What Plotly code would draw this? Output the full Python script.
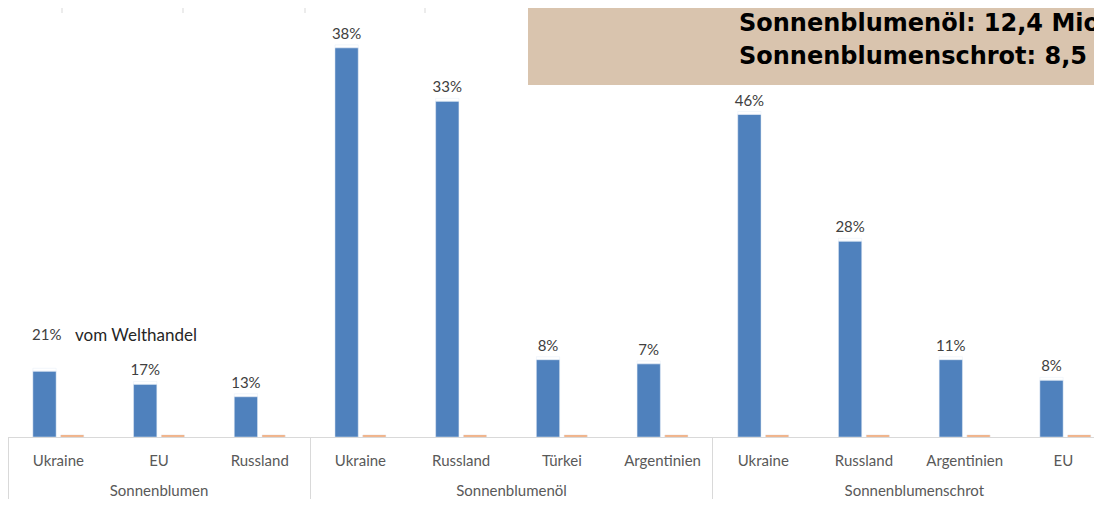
import plotly.graph_objects as go

# Produkte (Gruppen) und Länder
gruppen = ["Sonnenblumen"] * 3 + ["Sonnenblumenöl"] * 4 + ["Sonnenblumenschrot"] * 4
# "EU " mit Leerzeichen, damit plotly die Reihenfolge in der letzten Gruppe nicht umsortiert
laender = ["Ukraine", "EU", "Russland",
           "Ukraine", "Russland", "Türkei", "Argentinien",
           "Ukraine", "Russland", "Argentinien", "EU "]

# Exportmengen in Mio t (Balkenhöhe) und Anteil am Welthandel (Beschriftung)
export_mio_t = [0.80, 0.64, 0.49,
                4.73, 4.08, 0.94, 0.89,
                3.92, 2.38, 0.94, 0.69]
anteil = ["", "17%", "13%",
          "38%", "33%", "8%", "7%",
          "46%", "28%", "11%", "8%"]
zweite_reihe = [0.025] * 11

BLAU = "#4F81BD"
ORANGE = "#F4A46E"
FONT = "Lato"

# Browser legt 8px Rand um die Seite -> Plotbereich oben links bei Bild (8, 8)
W, H = 1102, 505
PLOT_H = 429          # Achse bei y=437 im Bild
PX_PRO_MIO_T = 82.3

# Gruppennamen eine Zeile tiefer, wie im Original
gruppen_label = ["<br>" + g for g in gruppen]

fig = go.Figure()
fig.add_trace(go.Bar(x=[gruppen_label, laender], y=export_mio_t, marker_color=BLAU,
                     offsetgroup="blau"))
fig.add_trace(go.Bar(x=[gruppen_label, laender], y=zweite_reihe, marker_color=ORANGE,
                     offsetgroup="orange"))
# unsichtbare Balken über den blauen Balken tragen die Prozent-Beschriftung
fig.add_trace(go.Bar(
    x=[gruppen_label, laender], y=[0.035] * 11, base=export_mio_t,
    marker_color="rgba(0,0,0,0)", offsetgroup="blau",
    text=anteil, textposition="outside", constraintext="none", cliponaxis=False,
    textfont=dict(family=FONT, size=15, color="#404040"),
))

# Sonderbeschriftung des ersten Balkens
fig.add_annotation(text="21%", xref="paper", yref="y", x=22 / W, y=1.25,
                   xanchor="left", yanchor="middle", showarrow=False,
                   font=dict(family=FONT, size=15, color="#404040"))
fig.add_annotation(text="vom Welthandel", xref="paper", yref="y", x=65 / W, y=1.25,
                   xanchor="left", yanchor="middle", showarrow=False,
                   font=dict(family=FONT, size=17, color="#262626"))

# Kasten oben rechts
fig.add_shape(type="rect", xref="paper", yref="paper", x0=520 / W, x1=1.05,
              y0=1 - 77 / PLOT_H, y1=1.0, fillcolor="#D9C4AE", line_width=0, layer="below")
box_font = dict(family="DejaVu Sans", size=24, color="black")
fig.add_annotation(text="<b>Sonnenblumenöl: 12,4 Mio t</b>", xref="paper", yref="paper",
                   x=729 / W, y=1 - 15 / PLOT_H, xanchor="left", yanchor="middle",
                   showarrow=False, font=box_font)
fig.add_annotation(text="<b>Sonnenblumenschrot: 8,5 Mio t</b>", xref="paper", yref="paper",
                   x=729 / W, y=1 - 48 / PLOT_H, xanchor="left", yanchor="middle",
                   showarrow=False, font=box_font)

# Reste von Gitterlinien oben
for px in [54, 175, 297, 417]:
    fig.add_shape(type="line", xref="paper", yref="paper", x0=px / W, x1=px / W,
                  y0=1.0, y1=1 - 5 / PLOT_H, line=dict(color="#D9D9D9", width=1))

fig.update_layout(
    width=W, height=H,
    margin=dict(l=0, r=0, t=0, b=H - PLOT_H, autoexpand=False),
    barmode="group", bargap=0.45, bargroupgap=0.16,
    showlegend=False,
    plot_bgcolor="white", paper_bgcolor="white",
    font=dict(family=FONT, size=15, color="#595959"),
)
fig.update_xaxes(type="multicategory", range=[-0.5, W / 100.7 - 0.5], showline=True,
                 linecolor="#D9D9D9", linewidth=1, showgrid=False, automargin=False,
                 ticklabelstandoff=10,
                 dividercolor="#D9D9D9", dividerwidth=1,
                 tickfont=dict(family=FONT, size=15, color="#595959"))
fig.update_yaxes(range=[0, PLOT_H / PX_PRO_MIO_T], visible=False, showgrid=False)

fig.write_html("out.html")
